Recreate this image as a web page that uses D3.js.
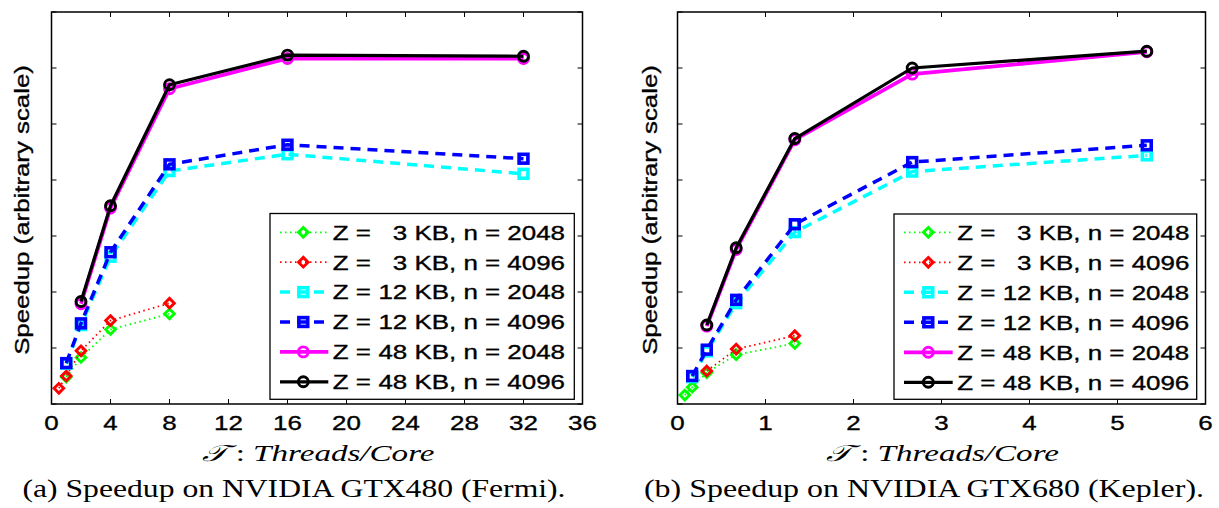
<!DOCTYPE html>
<html>
<head>
<meta charset="utf-8">
<script src="https://cdn.jsdelivr.net/npm/d3@7"></script>
<style>
  html, body { margin: 0; padding: 0; background: #fff; }
  svg { display: block; }
</style>
</head>
<body>
<svg id="chart" width="1219" height="508"></svg>
<script>
// ---------------- DATA ----------------
const xTicksFermi = [0, 4, 8, 12, 16, 20, 24, 28, 32, 36];
const xTicksKepler = [0, 1, 2, 3, 4, 5, 6];
const yTicks = [0, 1, 2, 3, 4, 5, 6, 7];

const tFermi  = [0.5, 1, 2, 4, 8, 16, 32];
const tKepler = [0.083, 0.167, 0.333, 0.667, 1.333, 2.667, 5.333];

const fermiZ3n2048  = [null, 0.48, 0.83, 1.33, 1.61, null, null];
const fermiZ3n4096  = [0.28, 0.50, 0.95, 1.49, 1.80, null, null];
const fermiZ12n2048 = [null, 0.72, 1.41, 2.63, 4.16, 4.46, 4.11];
const fermiZ12n4096 = [null, 0.73, 1.44, 2.71, 4.28, 4.63, 4.38];
const fermiZ48n2048 = [null, null, 1.79, 3.50, 5.63, 6.17, 6.17];
const fermiZ48n4096 = [null, null, 1.83, 3.54, 5.70, 6.23, 6.21];

const keplerZ3n2048  = [0.16, 0.30, 0.56, 0.88, 1.08, null, null];
const keplerZ3n4096  = [null, null, 0.59, 0.98, 1.22, null, null];
const keplerZ12n2048 = [null, 0.48, 0.94, 1.80, 3.07, 4.15, 4.44];
const keplerZ12n4096 = [null, 0.50, 0.97, 1.86, 3.21, 4.32, 4.62];
const keplerZ48n2048 = [null, null, 1.39, 2.76, 4.72, 5.89, 6.29];
const keplerZ48n4096 = [null, null, 1.41, 2.79, 4.74, 6.00, 6.30];

const seriesZ = ["3", "3", "12", "12", "48", "48"];
const seriesN = ["2048", "4096", "2048", "4096", "2048", "4096"];

const yLabel = "Speedup (arbitrary scale)";
const xLabelScript = "\u{1D4AF}";
const xLabelRest = "Threads/Core";
const captionA = "(a) Speedup on NVIDIA GTX480 (Fermi).";
const captionB = "(b) Speedup on NVIDIA GTX680 (Kepler).";

// ---------------- STYLES ----------------
const styles = [
  { color: "#00ff00", dash: "1.5,3.5", width: 1.8, marker: "diamond" },
  { color: "#ff0000", dash: "1.5,3.5", width: 1.8, marker: "diamond" },
  { color: "#00ffff", dash: "10,7",    width: 3.5, marker: "square" },
  { color: "#0000ff", dash: "10,7",    width: 3.5, marker: "square" },
  { color: "#ff00ff", dash: null,      width: 3.8, marker: "circle" },
  { color: "#000000", dash: null,      width: 3.2, marker: "circle" }
];

const SANS = '"Liberation Sans", Arial, Helvetica, sans-serif';
const SERIF = '"Liberation Serif", "Times New Roman", serif';
const FS = 20.5, SX = 1.265;

const svg = d3.select("#chart");

function stext(parent, x, y, str, o = {}) {
  const t = parent.append("text")
    .attr("transform", `translate(${x},${y}) rotate(${o.rotate || 0}) scale(${o.sx || SX},1)`)
    .attr("text-anchor", o.anchor || "middle")
    .style("font-family", o.family || SANS)
    .style("font-size", (o.size || FS) + "px")
    .attr("fill", "#000")
    .attr("stroke", "#000").attr("stroke-width", 0.35)
    .text(str);
  return t;
}

function drawMarker(g, type, x, y, color) {
  if (type === "diamond") {
    g.append("path").attr("d", `M${x},${y-4.8}L${x+4.8},${y}L${x},${y+4.8}L${x-4.8},${y}Z`)
      .attr("fill", "none").attr("stroke", color).attr("stroke-width", 2.9);
  } else if (type === "square") {
    g.append("rect").attr("x", x - 4.4).attr("y", y - 4.4).attr("width", 8.8).attr("height", 8.8)
      .attr("fill", "none").attr("stroke", color).attr("stroke-width", 3.6);
  } else {
    g.append("circle").attr("cx", x).attr("cy", y).attr("r", 5)
      .attr("fill", "none").attr("stroke", color).attr("stroke-width", 2.9);
  }
}

function panel(cfg) {
  const x = d3.scaleLinear().domain(cfg.xDomain).range([cfg.left, cfg.right]);
  const y = d3.scaleLinear().domain([0, 7]).range([cfg.bottom, cfg.top]);
  const g = svg.append("g");

  // series
  cfg.series.forEach((vals, i) => {
    const st = styles[i];
    const pts = vals.map((v, k) => ({ x: cfg.xs[k], y: v }));
    const line = d3.line().defined(d => d.y != null).x(d => x(d.x)).y(d => y(d.y));
    g.append("path").attr("d", line(pts)).attr("fill", "none")
      .attr("stroke", st.color).attr("stroke-width", st.width)
      .attr("stroke-dasharray", st.dash).attr("stroke-linejoin", "round");
    pts.filter(d => d.y != null).forEach(d => drawMarker(g, st.marker, x(d.x), y(d.y), st.color));
  });

  // axes box
  const tl = 5;
  const axG = svg.append("g").attr("stroke", "#000").attr("stroke-width", 1);
  cfg.xTicks.forEach(v => {
    axG.append("line").attr("x1", x(v)).attr("x2", x(v)).attr("y1", cfg.bottom).attr("y2", cfg.bottom - tl);
    axG.append("line").attr("x1", x(v)).attr("x2", x(v)).attr("y1", cfg.top).attr("y2", cfg.top + tl);
  });
  yTicks.forEach(v => {
    axG.append("line").attr("x1", cfg.left).attr("x2", cfg.left + tl).attr("y1", y(v)).attr("y2", y(v));
    axG.append("line").attr("x1", cfg.right).attr("x2", cfg.right - tl).attr("y1", y(v)).attr("y2", y(v));
  });
  svg.append("rect").attr("x", cfg.left).attr("y", cfg.top)
    .attr("width", cfg.right - cfg.left).attr("height", cfg.bottom - cfg.top)
    .attr("fill", "none").attr("stroke", "#000").attr("stroke-width", 1.5);

  // tick labels
  cfg.xTicks.forEach(v => stext(svg, x(v), 430, String(v)));

  // y label
  stext(svg, cfg.yLabelX, 210, yLabel, { rotate: -90, sx: 1.23, size: 21 });

  // x label
  const xl = svg.append("text")
    .attr("x", (cfg.left + cfg.right) / 2 + 1).attr("y", 461)
    .attr("text-anchor", "middle")
    .style("font-family", SERIF).style("font-size", "23px")
    .attr("textLength", 233).attr("lengthAdjust", "spacingAndGlyphs");
  xl.append("tspan").style("font-family", '"DejaVu Serif", "DejaVu Sans", serif').style("font-style", "italic").text(xLabelScript);
  xl.append("tspan").text(" : ");
  xl.append("tspan").style("font-style", "italic").text(xLabelRest);

  // caption
  svg.append("text").attr("x", cfg.capX).attr("y", 497).attr("text-anchor", "middle")
    .style("font-family", SERIF).style("font-size", "26px")
    .attr("textLength", cfg.capW).attr("lengthAdjust", "spacingAndGlyphs")
    .text(cfg.caption);

  // legend
  const L = cfg.legend;
  const lg = svg.append("g");
  lg.append("rect").attr("x", L.x0).attr("y", L.y0).attr("width", L.x1 - L.x0).attr("height", L.y1 - L.y0)
    .attr("fill", "#fff").attr("stroke", "#000").attr("stroke-width", 1.3);
  styles.forEach((st, i) => {
    const ry = L.row0 + i * L.step;
    lg.append("line").attr("x1", L.lx0).attr("x2", L.lx1).attr("y1", ry).attr("y2", ry)
      .attr("stroke", st.color).attr("stroke-width", st.width)
      .attr("stroke-dasharray", st.dash);
    drawMarker(lg, st.marker, L.mx, ry, st.color);
    stext(lg, L.tx0, ry + 7.3, "Z =", { anchor: "start" });
    stext(lg, L.tx1, ry + 7.3, `${seriesZ[i]} KB, n = ${seriesN[i]}`, { anchor: "end" });
  });
}

panel({
  left: 51.5, right: 582.5, top: 12, bottom: 404,
  xDomain: [0, 36], xTicks: xTicksFermi, xs: tFermi,
  series: [fermiZ3n2048, fermiZ3n4096, fermiZ12n2048, fermiZ12n4096, fermiZ48n2048, fermiZ48n4096],
  yLabelX: 28.5, caption: captionA, capX: 294, capW: 543,
  legend: { x0: 270, y0: 213.5, x1: 574.3, y1: 399.3, row0: 232.3, step: 29.9,
            lx0: 280, lx1: 328.3, mx: 303.3, tx0: 332.7, tx1: 565 }
});

panel({
  left: 677.5, right: 1205.5, top: 12, bottom: 404,
  xDomain: [0, 6], xTicks: xTicksKepler, xs: tKepler,
  series: [keplerZ3n2048, keplerZ3n4096, keplerZ12n2048, keplerZ12n4096, keplerZ48n2048, keplerZ48n4096],
  yLabelX: 656.5, caption: captionB, capX: 924, capW: 560,
  legend: { x0: 894, y0: 214, x1: 1196.7, y1: 399.3, row0: 232.3, step: 30,
            lx0: 904, lx1: 952.7, mx: 928.3, tx0: 957.3, tx1: 1189.3 }
});
</script>
</body>
</html>
